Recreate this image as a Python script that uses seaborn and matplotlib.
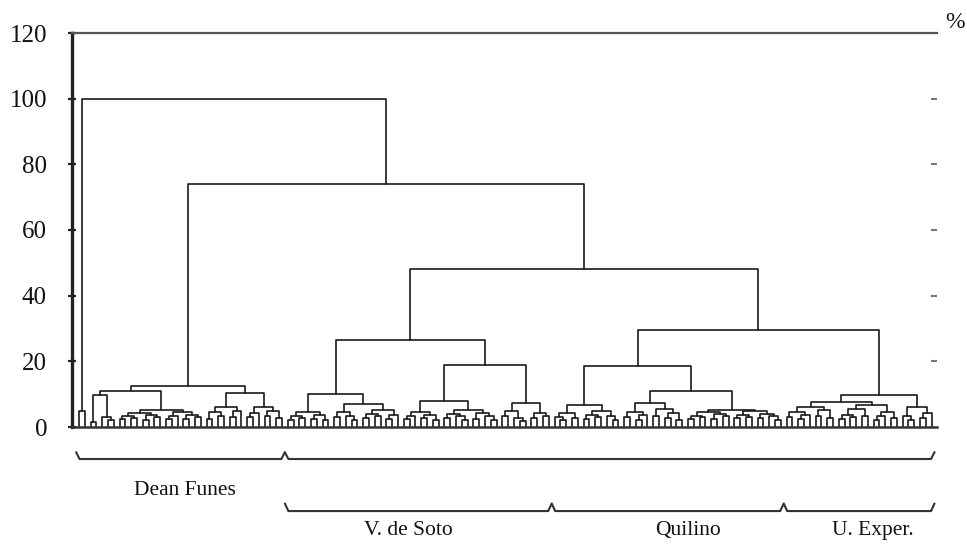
import numpy as np
import pandas as pd
import matplotlib
matplotlib.use('Agg')
import matplotlib.pyplot as plt
import seaborn as sns

# cluster tree, each node is [height, left, right]; 0 is a single sample
# outlier pair on the far left
A = [5, 0, 0]

# Dean Funes
DF_L_left = [9.7, [1.5, 0, 0], [3, 0, [2, 0, 0]]]
DF_L_right = [5.2, [4.3, [3.5, [2.5, 0, 0], [2.8, 0, 0]], [3.8, [2.2, 0, 0], [3, 0, 0]]],
              [4.5, [3.5, [2.5, 0, 0], 0], [3.8, [2.5, 0, 0], [3, 0, 0]]]]
DF_R_a = [6.2, [4.5, [2.5, 0, 0], [3.5, 0, 0]], [4.8, [3, 0, 0], 0]]
DF_R_b = [6, [4.2, [3, 0, 0], 0], [5, [3.5, 0, 0], [2.6, 0, 0]]]
DF = [12.5, [11, DF_L_left, DF_L_right], [10.5, DF_R_a, DF_R_b]]

# V. de Soto
VS_L_a = [4.6, [3.2, [2.2, 0, 0], [2.8, 0, 0]], [3.8, [2.5, 0, 0], [2, 0, 0]]]
VS_L_b = [7, [4.5, [3, 0, 0], [3.5, 0, [2.2, 0, 0]]],
          [5.2, [4, [2.6, 0, 0], [3.2, 0, 0]], [3.6, [2.4, 0, 0], 0]]]
VS_R_a = [8, [4.6, [3.4, [2.3, 0, 0], 0], [3.8, [2.6, 0, 0], [2, 0, 0]]],
          [5.2, [4, [2.8, 0, 0], [3.3, 0, [2.2, 0, 0]]], [4.4, [2.5, 0, 0], [3.4, 0, [2.1, 0, 0]]]]]
VS_R_b = [7.3, [4.8, [3.2, 0, 0], [2.6, 0, [1.8, 0, 0]]], [4.2, [2.7, 0, 0], [3.5, 0, 0]]]
VS = [26.5, [10, VS_L_a, VS_L_b], [19, VS_R_a, VS_R_b]]

# Quilino
Q_L = [6.8, [4.2, [3, 0, [2, 0, 0]], [2.6, 0, 0]],
       [5, [3.8, [2.4, 0, 0], [2.9, 0, 0]], [3.2, 0, [2.2, 0, 0]]]]
Q_R_a = [7.2, [4.5, [3, 0, 0], [3.6, [2.2, 0, 0], 0]],
         [5.5, [3.4, 0, 0], [4.2, [2.8, 0, 0], [2.2, 0, 0]]]]
Q_R_b = [5.2, [4.5, [3.5, [2.5, 0, 0], [3, 0, 0]], [4, [2.4, 0, 0], [3.2, 0, 0]]],
         [4.8, [3.8, [2.6, 0, 0], [3.1, 0, 0]], [4.1, [2.8, 0, 0], [3.4, 0, [2.2, 0, 0]]]]]
Q = [18.5, Q_L, [11, Q_R_a, Q_R_b]]

# U. Exper.
U_a = [7.6, [6.2, [4.5, [3, 0, 0], [3.6, [2.3, 0, 0], 0]], [5.2, [3.3, 0, 0], [2.7, 0, 0]]],
       [6.8, [5.5, [3.8, [2.5, 0, 0], [2.9, 0, 0]], [3.2, 0, 0]], [4.6, [3.4, [2.2, 0, 0], 0], [2.8, 0, 0]]]]
U_b = [6, [3.5, 0, [2.2, 0, 0]], [4.2, [2.8, 0, 0], 0]]
U = [9.8, U_a, U_b]

ROOT = [100, A, [74, DF, [48, VS, [29.5, Q, U]]]]

top_groups = ['Dean Funes', '']
groups = ['V. de Soto', 'Quilino', 'U. Exper.']
label_shift = [0.8, -1.7, 3.5, 2.4]  # nudges for the group names, in sample units


def walk(node, segs, counter):
    if not isinstance(node, list):
        x = counter[0]
        counter[0] += 1
        return x, 0.0
    h, left, right = node
    x1, h1 = walk(left, segs, counter)
    x2, h2 = walk(right, segs, counter)
    segs.append([(x1, h1), (x1, h), (x2, h), (x2, h2)])
    return (x1 + x2) / 2, h


def n_leaves(node):
    if not isinstance(node, list):
        return 1
    return n_leaves(node[1]) + n_leaves(node[2])


segs = []
walk(ROOT, segs, [0])
rows = []
for k, seg in enumerate(segs):
    for x, y in seg:
        rows.append({'x': x, 'y': y, 'seg': k})
df = pd.DataFrame(rows)

sns.set_theme(style='white')
plt.rcParams['font.family'] = ['Liberation Serif', 'DejaVu Serif']

fig = plt.figure(figsize=(9.67, 5.44), dpi=100)
ax = fig.add_axes([72 / 967, 1 - 427 / 544, 865 / 967, 394 / 544])

sns.lineplot(data=df, x='x', y='y', units='seg', estimator=None, sort=False,
             color='#1a1a1a', lw=1.2, legend=False, ax=ax)
for ln in ax.lines:
    ln.set_clip_on(False)

n_total = n_leaves(ROOT)
ax.set_xlim(-1.2, n_total - 0.07)
ax.set_ylim(0, 120)
ax.set_xlabel('')
ax.set_ylabel('')
ax.set_xticks([])
ax.set_yticks(range(0, 121, 20))
ax.tick_params(axis='y', direction='inout', length=6, width=1.6, color='#222222',
               pad=15, labelsize=18, labelcolor='#111111', left=True)
for s in ['left', 'top', 'bottom', 'right']:
    ax.spines[s].set_visible(True)
ax.spines['right'].set_visible(False)
ax.spines['left'].set_linewidth(2.4)
ax.spines['left'].set_color('#222222')
ax.spines['top'].set_linewidth(1.6)
ax.spines['top'].set_color('#555555')
ax.spines['bottom'].set_linewidth(1.8)
ax.spines['bottom'].set_color('#333333')

ax2 = ax.twinx()
ax2.set_ylim(0, 120)
ax2.set_yticks(range(20, 101, 20))
ax2.tick_params(axis='y', direction='in', length=4, width=1.5, color='#777777',
                labelright=False)
for s in ax2.spines.values():
    s.set_visible(False)
ax2.grid(False)

fig.text(955 / 967, 1 - 22 / 544, '%', fontsize=17, ha='center', va='center', color='#111111')

# group braces under the tree
n_df = n_leaves(A) + n_leaves(DF)
sizes = [n_leaves(VS), n_leaves(Q), n_leaves(U)]
bounds = [n_df - 0.5]
for s in sizes:
    bounds.append(bounds[-1] + s)


def brace(x0, x1, peaks, y, rise, w=0.6):
    pts = [(x0, y + rise), (x0 + w, y)]
    for p in peaks:
        pts += [(p - w, y), (p, y + rise), (p + w, y)]
    pts += [(x1 - w, y), (x1, y + rise)]
    xs, ys = zip(*pts)
    ax.plot(xs, ys, color='#333333', lw=1.5, clip_on=False)


brace(-0.5, bounds[-1], [bounds[0]], -9.75, 2.1)
brace(bounds[0], bounds[-1], bounds[1:-1], -25.6, 2.3)

ax.text((-0.5 + bounds[0]) / 2 + label_shift[0], -19.2, top_groups[0],
        fontsize=15.5, ha='center', va='center', color='#111111')
for i, name in enumerate(groups):
    xc = (bounds[i] + bounds[i + 1]) / 2 + label_shift[i + 1]
    ax.text(xc, -31.4, name, fontsize=15.5, ha='center', va='center', color='#111111')

fig.savefig('out.png', dpi=100)
